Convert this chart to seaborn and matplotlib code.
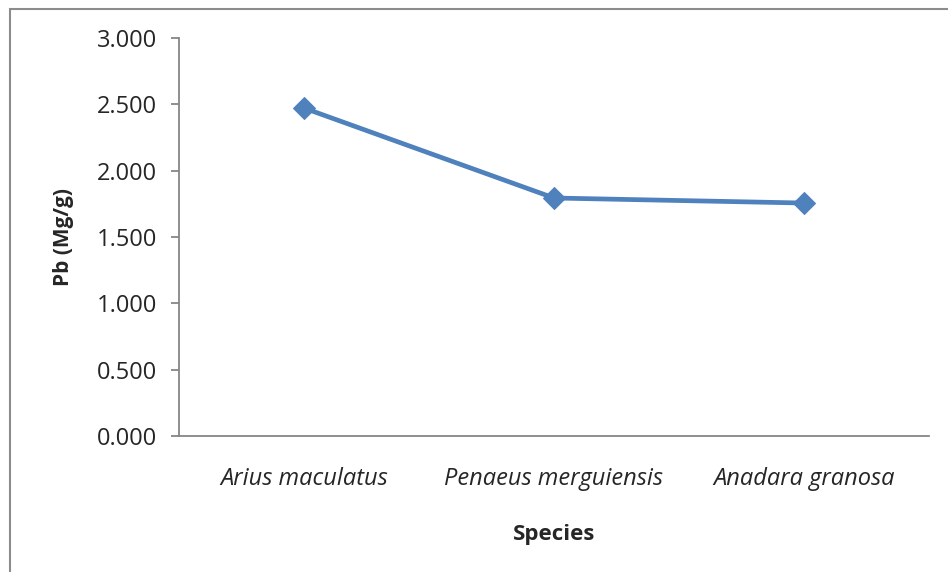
import matplotlib
matplotlib.use("Agg")
import matplotlib.pyplot as plt
import seaborn as sns
import pandas as pd
from matplotlib.patches import Rectangle

species = ["Arius maculatus", "Penaeus merguiensis", "Anadara granosa"]
pb_values = [2.472, 1.794, 1.756]
y_ticks = [0.0, 0.5, 1.0, 1.5, 2.0, 2.5, 3.0]

sns.set_style("white")
plt.rcParams['font.family'] = ['Open Sans', 'DejaVu Sans']

df = pd.DataFrame({"Species": species, "Pb": pb_values})

fig = plt.figure(figsize=(9.48, 5.72), dpi=100)
ax = fig.add_axes([179/948, 1-436/572, (929-179)/948, (436-38)/572])

color = "#4F81BD"
sns.lineplot(data=df, x="Species", y="Pb", ax=ax, color=color, linewidth=3.4,
             marker="D", markersize=11, markeredgecolor=color, sort=False)

fs = 17
ax.set_xlim(-0.5, 2.5)
ax.set_ylim(0, 3.0)
ax.set_yticks(y_ticks)
ax.set_yticklabels([f"{v:.3f}" for v in y_ticks], fontsize=fs)
ax.set_xticks(range(len(species)))
ax.set_xticklabels(species, fontsize=fs, style="italic")
ax.set_xticks([-0.5, 0.5, 1.5, 2.5], minor=True)
ax.tick_params(axis="x", which="major", length=0, pad=22)
ax.tick_params(axis="x", which="minor", length=6, width=1.3, color="#868686", direction="out")
ax.tick_params(axis="y", which="major", length=6, width=1.3, color="#868686", direction="out", pad=10, left=True)

for s in ["top", "right"]:
    ax.spines[s].set_visible(False)
for s in ["left", "bottom"]:
    ax.spines[s].set_color("#868686")
    ax.spines[s].set_linewidth(1.3)

ax.set_xlabel("Species", fontsize=16, fontweight="bold", labelpad=24)
ax.set_ylabel("Pb (Mg/g)", fontsize=15, fontweight="bold", labelpad=16)
ax.grid(False)

fig.patches.append(Rectangle((10/948, -0.1), 1.2, 1 - 9/572 + 0.1, transform=fig.transFigure,
                             fill=False, edgecolor="#8c8c8c", linewidth=1.5, figure=fig))

fig.savefig("out.png", dpi=100)
